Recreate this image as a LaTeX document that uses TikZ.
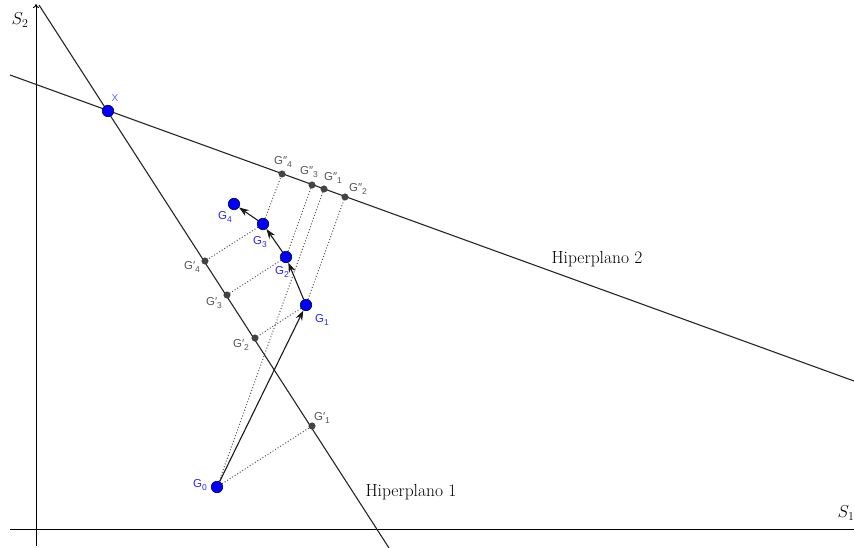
\documentclass[tikz,border=0pt]{standalone}
\usepackage{fontspec}
\newfontfamily\labfont{Liberation Sans}
\usetikzlibrary{arrows.meta,backgrounds}
\definecolor{gblue}{RGB}{0,0,255}
\definecolor{glab}{RGB}{40,40,255}
\definecolor{gdot}{RGB}{68,68,68}
\definecolor{ggray}{RGB}{85,85,85}
\newcommand{\gsub}[1]{\raisebox{-0.45ex}{\fontsize{8.5}{9}\selectfont #1}}
\tikzset{
  bigdot/.style={circle,draw=black!70!blue,line width=0.6pt,fill=gblue,inner sep=0pt,minimum size=11.5pt},
  smalldot/.style={circle,draw=black!80,line width=0.4pt,fill=gdot,inner sep=0pt,minimum size=6.5pt},
  bluelab/.style={text=glab,font=\labfont\fontsize{11.5}{13}\selectfont,inner sep=0pt},
  graylab/.style={text=ggray,font=\labfont\fontsize{11.5}{13}\selectfont,inner sep=0pt},
  serlab/.style={font=\fontsize{17.5}{20}\selectfont,inner sep=0pt},
  hyper/.style={draw=black!85,line width=1.1pt},
  axis/.style={draw=black,line width=0.9pt},
  proj/.style={draw=ggray,line width=1pt,dash pattern=on 1pt off 2pt},
  stepline/.style={draw=black!90,line width=1.1pt,-{Stealth[length=10pt,width=7pt]}}
}
\begin{document}
\begin{tikzpicture}[x=1pt,y=-1pt]
\useasboundingbox (0,0) rectangle (854,548);
% line end points
\coordinate (h1a) at (39,5);
\coordinate (h1b) at (389,548);
\coordinate (h2a) at (10,75);
\coordinate (h2b) at (854,381);
\coordinate (ya) at (36,546);
\coordinate (yb) at (36,4);
\coordinate (xa) at (10,529);
\coordinate (xb) at (854,529);
% points
\node[bigdot] (X) at (108,111) {};
\node[bigdot] (G0) at (217,487) {};
\node[bigdot] (G1) at (306,305) {};
\node[bigdot] (G2) at (286,257) {};
\node[bigdot] (G3) at (263,224) {};
\node[bigdot] (G4) at (234,204) {};
\node[smalldot] (P1) at (312,426) {};
\node[smalldot] (P2) at (255,338) {};
\node[smalldot] (P3) at (227,295) {};
\node[smalldot] (P4) at (205,261) {};
\node[smalldot] (Q4) at (282,174) {};
\node[smalldot] (Q3) at (312,185) {};
\node[smalldot] (Q1) at (324,189) {};
\node[smalldot] (Q2) at (345,197) {};
\begin{scope}[on background layer]
  \draw[axis] (xa) -- (xb);
  \draw[axis,-{To[length=4pt,width=6pt]}] (ya) -- (yb);
  \draw[hyper] (h1a) -- (h1b);
  \draw[hyper] (h2a) -- (h2b);
  \draw[proj] (G0) -- (P1);
  \draw[proj] (G0) -- (Q1);
  \draw[proj] (G1) -- (P2);
  \draw[proj] (G1) -- (Q2);
  \draw[proj] (G2) -- (P3);
  \draw[proj] (G2) -- (Q3);
  \draw[proj] (G3) -- (P4);
  \draw[proj] (G3) -- (Q4);
\end{scope}
\draw[stepline] (G0) -- (G1);
\draw[stepline] (G1) -- (G2);
\draw[stepline] (G2) -- (G3);
\draw[stepline] (G3) -- (G4);
% labels
\node[serlab] (lS2) at (20,20) {$S_2$};
\node[serlab] (lS1) at (846,513) {$S_1$};
\node[serlab] (lH1) at (411,492) {Hiperplano 1};
\node[serlab] (lH2) at (597,259) {Hiperplano 2};
\node[bluelab,text=gblue!60,font=\labfont\fontsize{10}{11}\selectfont] (lX) at (115,98) {X};
\node[bluelab] (lG0) at (200,485) {G\gsub{0}};
\node[bluelab] (lG1) at (322,320) {G\gsub{1}};
\node[bluelab] (lG2) at (282,272) {G\gsub{2}};
\node[bluelab] (lG3) at (260,242) {G\gsub{3}};
\node[bluelab] (lG4) at (225,217) {G\gsub{4}};
\node[graylab] (lP1) at (322,418) {G′\gsub{1}};
\node[graylab] (lP2) at (241,345) {G′\gsub{2}};
\node[graylab] (lP3) at (214,303) {G′\gsub{3}};
\node[graylab] (lP4) at (192,267) {G′\gsub{4}};
\node[graylab] (lQ4) at (283,162) {G″\gsub{4}};
\node[graylab] (lQ3) at (309,172) {G″\gsub{3}};
\node[graylab] (lQ1) at (333,178) {G″\gsub{1}};
\node[graylab] (lQ2) at (358,189) {G″\gsub{2}};
\end{tikzpicture}
\end{document}
